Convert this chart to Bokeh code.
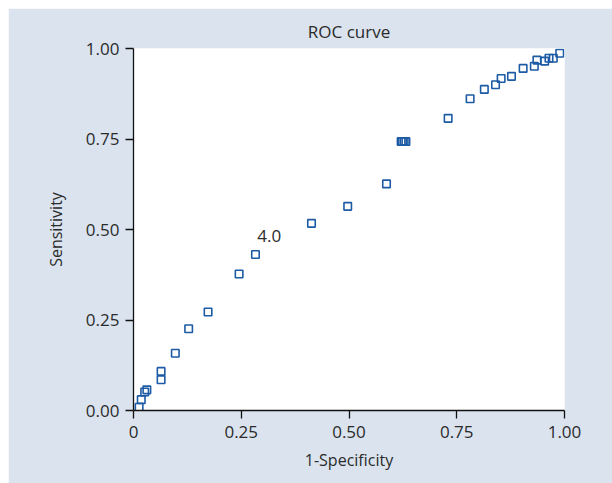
from bokeh.plotting import figure
from bokeh.layouts import column, row
from bokeh.models import ColumnDataSource, FixedTicker, Range1d, Spacer
from bokeh.core.properties import value
from bokeh.embed import file_html
from bokeh.resources import INLINE

# 1-Specificity / Sensitivity pairs
fpr = [0.013, 0.018, 0.026, 0.031, 0.064, 0.064, 0.097, 0.128, 0.173, 0.245,
       0.283, 0.413, 0.497, 0.587, 0.621, 0.624, 0.628, 0.632, 0.730, 0.781,
       0.814, 0.840, 0.853, 0.877, 0.904, 0.930, 0.936, 0.954, 0.964, 0.974, 0.989]
tpr = [0.009, 0.030, 0.051, 0.057, 0.085, 0.108, 0.158, 0.226, 0.272, 0.377,
       0.431, 0.517, 0.564, 0.626, 0.743, 0.743, 0.743, 0.743, 0.807, 0.861,
       0.887, 0.900, 0.917, 0.923, 0.945, 0.951, 0.968, 0.965, 0.973, 0.973, 0.987]

ann_x = [0.315]
ann_y = [0.481]
ann_text = ["4.0"]

ticks = [0, 0.25, 0.5, 0.75, 1.0]
x_labels = {0: "0", 0.25: "0.25", 0.5: "0.50", 0.75: "0.75", 1.0: "1.00"}
y_labels = {0: "0.00", 0.25: "0.25", 0.5: "0.50", 0.75: "0.75", 1.0: "1.00"}

FONT = "Open Sans"
BG = "#dae3ee"
BLUE = "#1d5ba5"
TXT = "#2b2b2b"

p = figure(width=604, height=475, output_backend="svg", toolbar_location=None,
           x_range=Range1d(0, 1.0), y_range=Range1d(0, 1.0),
           title="ROC curve",
           min_border_left=125, min_border_right=48,
           min_border_top=40, min_border_bottom=73)

p.background_fill_color = "white"
p.border_fill_color = BG
p.outline_line_color = None
p.grid.visible = False

p.title.align = "center"
p.title.text_font = FONT
p.title.text_font_size = "17px"
p.title.text_font_style = "normal"
p.title.text_color = TXT
p.title.offset = 0
p.title.standoff = 11

src = ColumnDataSource(dict(x=fpr, y=tpr))
p.scatter("x", "y", source=src, marker="square", size=7.5,
          fill_color="white", fill_alpha=0.0, line_color=BLUE, line_width=1.6)

p.text(x=ann_x, y=ann_y, text=ann_text, text_font=value(FONT),
       text_font_size="17px", text_color=TXT, text_align="center",
       text_baseline="middle")

for ax, labels in ((p.xaxis[0], x_labels), (p.yaxis[0], y_labels)):
    ax.ticker = FixedTicker(ticks=ticks)
    ax.major_label_overrides = labels
    ax.minor_tick_line_color = None
    ax.major_tick_out = 8
    ax.major_tick_in = 0
    ax.axis_line_color = "#111111"
    ax.major_tick_line_color = "#111111"
    ax.axis_line_width = 1.3
    ax.major_tick_line_width = 1.3
    ax.major_label_text_font = FONT
    ax.major_label_text_font_size = "17px"
    ax.major_label_text_color = TXT
    ax.axis_label_text_font = FONT
    ax.axis_label_text_font_size = "16px"
    ax.axis_label_text_font_style = "normal"
    ax.axis_label_text_color = TXT

p.xaxis.axis_label = "1-Specificity"
p.yaxis.axis_label = "Sensitivity"
p.xaxis.major_label_standoff = 7
p.yaxis.major_label_standoff = 6
p.xaxis.axis_label_standoff = 8
p.yaxis.axis_label_standoff = 16

layout = column(Spacer(height=8), row(Spacer(width=8), p))

open("out.html", "w").write(file_html(layout, INLINE))
